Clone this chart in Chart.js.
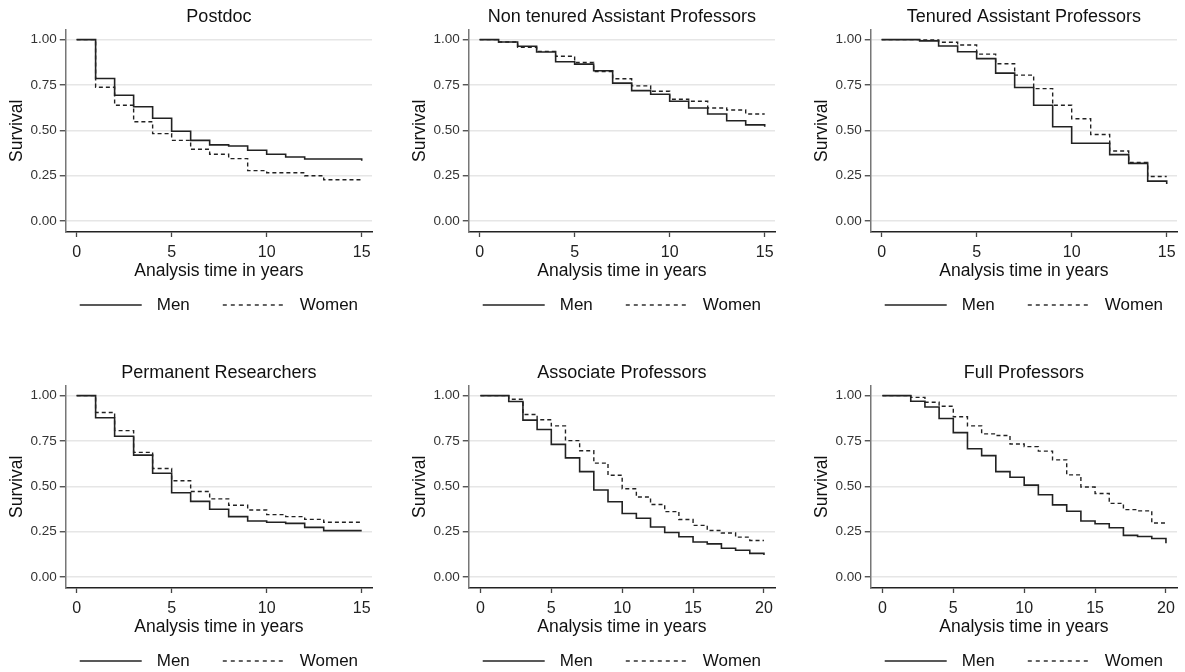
<!DOCTYPE html>
<html>
<head>
<meta charset="utf-8">
<script src="https://cdn.jsdelivr.net/npm/chart.js@4.4.1/dist/chart.umd.min.js"></script>
<style>
  body { margin: 0; background: #fff; }
  #wrap { position: relative; width: 1185px; height: 672px; overflow: hidden; }
  canvas { position: absolute; }
</style>
</head>
<body>
<div id="wrap"></div>
<script>
// Kaplan-Meier survival estimates, one value per year (value holds from that year on)
const years15 = [0, 1, 2, 3, 4, 5, 6, 7, 8, 9, 10, 11, 12, 13, 14, 15];
const years20 = [0, 1, 2, 3, 4, 5, 6, 7, 8, 9, 10, 11, 12, 13, 14, 15, 16, 17, 18, 19, 20];

const postdocMen   = [1.00, 0.786, 0.693, 0.630, 0.567, 0.495, 0.445, 0.420, 0.414, 0.390, 0.368, 0.353, 0.342, 0.342, 0.342, 0.333];
const postdocWomen = [1.00, 0.737, 0.638, 0.547, 0.482, 0.445, 0.396, 0.368, 0.344, 0.278, 0.266, 0.266, 0.250, 0.228, 0.228, 0.224];

const nonTenuredMen   = [1.00, 0.987, 0.963, 0.932, 0.878, 0.865, 0.828, 0.760, 0.719, 0.699, 0.660, 0.623, 0.590, 0.553, 0.530, 0.520];
const nonTenuredWomen = [1.00, 0.987, 0.957, 0.935, 0.908, 0.874, 0.824, 0.784, 0.745, 0.715, 0.671, 0.660, 0.623, 0.612, 0.590, 0.590];

const tenuredMen   = [1.00, 1.00, 0.993, 0.965, 0.933, 0.895, 0.815, 0.736, 0.638, 0.520, 0.429, 0.429, 0.366, 0.318, 0.220, 0.205];
const tenuredWomen = [1.00, 1.00, 0.998, 0.985, 0.970, 0.920, 0.867, 0.804, 0.730, 0.638, 0.564, 0.477, 0.386, 0.323, 0.246, 0.246];

const permanentMen   = [1.00, 0.878, 0.776, 0.672, 0.572, 0.465, 0.417, 0.374, 0.333, 0.309, 0.302, 0.296, 0.274, 0.256, 0.256, 0.256];
const permanentWomen = [1.00, 0.907, 0.807, 0.687, 0.598, 0.531, 0.472, 0.431, 0.396, 0.370, 0.344, 0.333, 0.318, 0.302, 0.302, 0.300];

const associateMen   = [1.00, 1.00, 0.967, 0.865, 0.813, 0.731, 0.657, 0.581, 0.480, 0.415, 0.350, 0.324, 0.276, 0.246, 0.222, 0.193, 0.183, 0.159, 0.148, 0.131, 0.122];
const associateWomen = [1.00, 1.00, 0.980, 0.896, 0.867, 0.833, 0.752, 0.696, 0.628, 0.561, 0.487, 0.441, 0.400, 0.361, 0.317, 0.285, 0.257, 0.243, 0.220, 0.202, 0.202];

const fullMen   = [1.00, 1.00, 0.969, 0.937, 0.874, 0.796, 0.707, 0.669, 0.581, 0.550, 0.507, 0.454, 0.398, 0.363, 0.309, 0.294, 0.272, 0.230, 0.224, 0.213, 0.187];
const fullWomen = [1.00, 1.00, 0.990, 0.963, 0.941, 0.883, 0.833, 0.789, 0.780, 0.733, 0.719, 0.694, 0.646, 0.563, 0.496, 0.461, 0.406, 0.372, 0.365, 0.298, 0.298];

const yTicks = [0, 0.25, 0.5, 0.75, 1];
const xTicks15 = [0, 5, 10, 15];
const xTicks20 = [0, 5, 10, 15, 20];

const panels = [
  { title: 'Postdoc', years: years15, men: postdocMen, women: postdocWomen, xTicks: xTicks15, col: 0, row: 0 },
  { title: 'Non tenured Assistant Professors', years: years15, men: nonTenuredMen, women: nonTenuredWomen, xTicks: xTicks15, col: 1, row: 0 },
  { title: 'Tenured Assistant Professors', years: years15, men: tenuredMen, women: tenuredWomen, xTicks: xTicks15, col: 2, row: 0 },
  { title: 'Permanent Researchers', years: years15, men: permanentMen, women: permanentWomen, xTicks: xTicks15, col: 0, row: 1 },
  { title: 'Associate Professors', years: years20, men: associateMen, women: associateWomen, xTicks: xTicks20, col: 1, row: 1 },
  { title: 'Full Professors', years: years20, men: fullMen, women: fullWomen, xTicks: xTicks20, col: 2, row: 1 },
];

Chart.defaults.font.family = '"Liberation Sans", Arial, sans-serif';
Chart.defaults.color = '#222';

// legend drawn under the plot, centred on the plot area
const stataLegend = {
  id: 'stataLegend',
  afterDraw(chart) {
    const { ctx, chartArea } = chart;
    const cx = (chartArea.left + chartArea.right) / 2;
    const y = chartArea.bottom + 73;
    ctx.save();
    ctx.font = '17px "Liberation Sans", Arial, sans-serif';
    ctx.fillStyle = '#111';
    ctx.textBaseline = 'middle';
    const lineW = 62, gap = 15, itemGap = 33;
    const menW = ctx.measureText('Men').width;
    const womenW = ctx.measureText('Women').width;
    const total = lineW + gap + menW + itemGap + lineW + gap + womenW;
    let x = cx - total / 2;

    ctx.strokeStyle = '#222';
    ctx.lineWidth = 1.6;
    ctx.beginPath();
    ctx.moveTo(x, y);
    ctx.lineTo(x + lineW, y);
    ctx.stroke();
    x += lineW + gap;
    ctx.fillText('Men', x, y);
    x += menW + itemGap;

    ctx.setLineDash([4, 4]);
    ctx.lineWidth = 1.4;
    ctx.beginPath();
    ctx.moveTo(x, y);
    ctx.lineTo(x + lineW, y);
    ctx.stroke();
    ctx.setLineDash([]);
    x += lineW + gap;
    ctx.fillText('Women', x, y);
    ctx.restore();
  }
};

const wrap = document.getElementById('wrap');

panels.forEach(p => {
  const canvas = document.createElement('canvas');
  canvas.width = 380;
  canvas.height = 316;
  canvas.style.left = (p.col * 402.5) + 'px';
  canvas.style.top = (p.row * 356) + 'px';
  wrap.appendChild(canvas);

  const xMax = p.years[p.years.length - 1];
  const pad = xMax === 20 ? 0.82 : 0.57;

  new Chart(canvas.getContext('2d'), {
    type: 'line',
    data: {
      datasets: [
        {
          label: 'Men',
          data: p.years.map((t, i) => ({ x: t, y: p.men[i] })),
          borderColor: '#222',
          borderWidth: 1.6,
          stepped: 'before',
          pointRadius: 0,
          fill: false,
        },
        {
          label: 'Women',
          data: p.years.map((t, i) => ({ x: t, y: p.women[i] })),
          borderColor: '#222',
          borderWidth: 1.4,
          borderDash: [4, 3],
          stepped: 'before',
          pointRadius: 0,
          fill: false,
        }
      ]
    },
    options: {
      responsive: false,
      animation: false,
      layout: { padding: { left: 6.5, right: 8, top: 0, bottom: 34 } },
      plugins: {
        legend: { display: false },
        tooltip: { enabled: false },
        title: {
          display: true,
          text: p.title,
          fullSize: false,
          color: '#111',
          font: { size: 18, weight: 'normal' },
          padding: { top: 6, bottom: 2 },
        },
      },
      scales: {
        x: {
          type: 'linear',
          min: -pad,
          max: xMax + pad * 0.95,
          afterBuildTicks: scale => { scale.ticks = p.xTicks.map(v => ({ value: v })); },
          ticks: { font: { size: 16, lineHeight: 1 }, color: '#222', padding: 8, maxRotation: 0 },
          grid: { drawOnChartArea: false, tickLength: 5, tickColor: '#444', tickWidth: 1.3 },
          border: { color: '#222', width: 1.5 },
          title: { display: true, text: 'Analysis time in years', color: '#111', font: { size: 17.5 }, padding: { top: -8, bottom: 0 } },
        },
        y: {
          min: -0.06,
          max: 1.055,
          afterBuildTicks: scale => { scale.ticks = yTicks.map(v => ({ value: v })); },
          ticks: { font: { size: 13.5 }, color: '#333', padding: 3, callback: v => Number(v).toFixed(2) },
          grid: { color: '#e6e6e6', lineWidth: 1.5, tickLength: 6, tickColor: '#444', tickWidth: 1.3 },
          border: { color: '#777', width: 1.5 },
          title: { display: true, text: 'Survival', color: '#111', font: { size: 17.5 }, padding: { top: 0, bottom: 0 } },
        }
      }
    },
    plugins: [stataLegend]
  });
});
</script>
</body>
</html>
